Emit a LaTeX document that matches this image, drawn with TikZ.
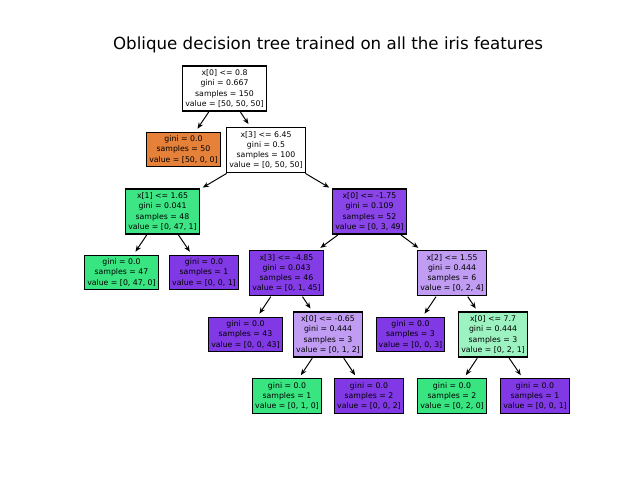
\documentclass[tikz,border=0pt]{standalone}
\usepackage{fontspec}
\setmainfont{DejaVu Sans}
\usetikzlibrary{arrows.meta}
\definecolor{corange}{RGB}{229,129,57}
\definecolor{cgreen}{RGB}{57,229,129}
\definecolor{cgreenA}{RGB}{61,229,132}
\definecolor{cgreenL}{RGB}{156,242,192}
\definecolor{cpurple}{RGB}{129,57,229}
\definecolor{cpurpleA}{RGB}{137,69,231}
\definecolor{cpurpleB}{RGB}{132,61,230}
\definecolor{cpurpleL}{RGB}{192,156,242}
\tikzset{
  tnode/.style={draw=black, line width=0.8pt, align=center, inner xsep=1.8pt, inner ysep=2.6pt,
    font=\fontsize{5.6}{7.4}\selectfont},
  edge/.style={-{Stealth[length=4.5pt,width=3.6pt]}, line width=0.7pt, shorten >=2.5pt, shorten <=0.5pt}
}
\begin{document}
\begin{tikzpicture}[x=0.72pt,y=-0.72pt]
\useasboundingbox (0,0) rectangle (640,480);
\node[anchor=base, font=\fontsize{12}{14}\selectfont] (title) at (328,49.3) {Oblique decision tree trained on all the iris features};

\node[tnode, fill=white] (n0) at (224.5,88.5) {x[0] <= 0.8\\gini = 0.667\\samples = 150\\value = [50, 50, 50]};
\node[tnode, fill=corange] (n1) at (183.5,149.5) {gini = 0.0\\samples = 50\\value = [50, 0, 0]};
\node[tnode, fill=white] (n2) at (266,150) {x[3] <= 6.45\\gini = 0.5\\samples = 100\\value = [0, 50, 50]};
\node[tnode, fill=cgreenA] (n3) at (162.5,211.5) {x[1] <= 1.65\\gini = 0.041\\samples = 48\\value = [0, 47, 1]};
\node[tnode, fill=cpurpleA] (n4) at (369.5,211.5) {x[0] <= -1.75\\gini = 0.109\\samples = 52\\value = [0, 3, 49]};
\node[tnode, fill=cgreen] (n5) at (121.5,272.5) {gini = 0.0\\samples = 47\\value = [0, 47, 0]};
\node[tnode, fill=cpurple] (n6) at (204,272.5) {gini = 0.0\\samples = 1\\value = [0, 0, 1]};
\node[tnode, fill=cpurpleB] (n7) at (286.5,273) {x[3] <= -4.85\\gini = 0.043\\samples = 46\\value = [0, 1, 45]};
\node[tnode, fill=cpurpleL] (n8) at (452,273) {x[2] <= 1.55\\gini = 0.444\\samples = 6\\value = [0, 2, 4]};
\node[tnode, fill=cpurple] (n9) at (245.5,334.5) {gini = 0.0\\samples = 43\\value = [0, 0, 43]};
\node[tnode, fill=cpurpleL] (n10) at (328,334.5) {x[0] <= -0.65\\gini = 0.444\\samples = 3\\value = [0, 1, 2]};
\node[tnode, fill=cpurple] (n11) at (410.5,334.5) {gini = 0.0\\samples = 3\\value = [0, 0, 3]};
\node[tnode, fill=cgreenL] (n12) at (493,334.5) {x[0] <= 7.7\\gini = 0.444\\samples = 3\\value = [0, 2, 1]};
\node[tnode, fill=cgreen] (n13) at (287,396) {gini = 0.0\\samples = 1\\value = [0, 1, 0]};
\node[tnode, fill=cpurple] (n14) at (369,396) {gini = 0.0\\samples = 2\\value = [0, 0, 2]};
\node[tnode, fill=cgreen] (n15) at (452,396) {gini = 0.0\\samples = 2\\value = [0, 2, 0]};
\node[tnode, fill=cpurple] (n16) at (535,396) {gini = 0.0\\samples = 1\\value = [0, 0, 1]};

\draw[edge] (n0) -- (n1);
\draw[edge] (n0) -- (n2);
\draw[edge] (n2) -- (n3);
\draw[edge] (n2) -- (n4);
\draw[edge] (n3) -- (n5);
\draw[edge] (n3) -- (n6);
\draw[edge] (n4) -- (n7);
\draw[edge] (n4) -- (n8);
\draw[edge] (n7) -- (n9);
\draw[edge] (n7) -- (n10);
\draw[edge] (n8) -- (n11);
\draw[edge] (n8) -- (n12);
\draw[edge] (n10) -- (n13);
\draw[edge] (n10) -- (n14);
\draw[edge] (n12) -- (n15);
\draw[edge] (n12) -- (n16);
\end{tikzpicture}
\end{document}
